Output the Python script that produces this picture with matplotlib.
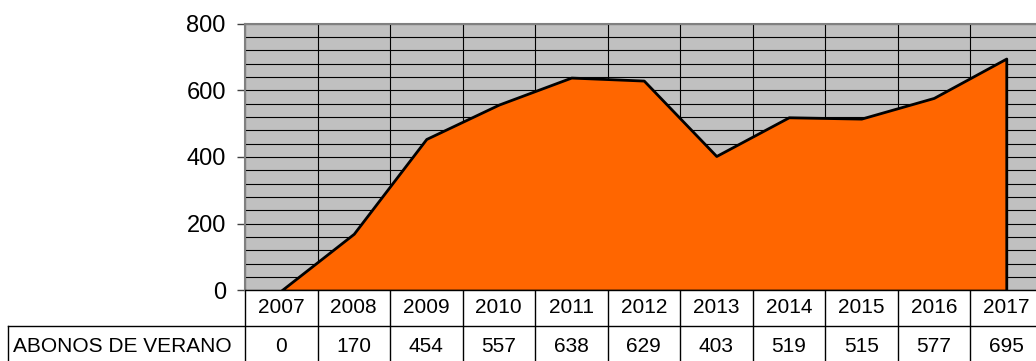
import matplotlib.pyplot as plt
import numpy as np
from matplotlib.transforms import blended_transform_factory

plt.rcParams['font.family'] = ['Liberation Sans', 'DejaVu Sans']

# Season tickets per year
years = ['2007', '2008', '2009', '2010', '2011', '2012', '2013', '2014', '2015', '2016', '2017']
abonos = [0, 170, 454, 557, 638, 629, 403, 519, 515, 577, 695]
row_label = 'ABONOS DE VERANO'

x = np.arange(len(years))

fig = plt.figure(figsize=(10.36, 3.61), dpi=100)
ax = fig.add_axes([0.2365, 0.1953, 0.7698, 0.7396])
ax.set_facecolor('#C0C0C0')

# area with black outline
ax.fill_between(x, abonos, 0, facecolor='#FF6600', edgecolor='black',
                linewidth=2, zorder=3)

ax.set_xlim(-0.5, len(years) - 0.5)
ax.set_ylim(0, 800)
ax.set_yticks(np.arange(0, 801, 200))
ax.set_yticks(np.arange(0, 801, 40), minor=True)
ax.set_xticks(x)
ax.set_xticklabels([])
ax.set_xticks(np.arange(-0.5, len(years)), minor=True)
ax.grid(which='both', axis='y', color='black', linewidth=0.8, zorder=1)
ax.grid(which='minor', axis='x', color='black', linewidth=0.8, zorder=1)
ax.set_axisbelow(True)

ax.tick_params(axis='y', which='major', length=5.8, width=1, color='#404040',
               labelsize=17, pad=8)
ax.tick_params(axis='y', which='minor', length=0)
ax.tick_params(axis='x', which='both', length=0)

for side in ['top', 'left']:
    ax.spines[side].set_color('#808080')
    ax.spines[side].set_linewidth(1.5)
ax.spines['bottom'].set_color('black')
ax.spines['bottom'].set_linewidth(1)
ax.spines['right'].set_visible(False)

# data table under the plot
tr = blended_transform_factory(ax.transData, ax.transAxes)
y_head = -0.0655
y_vals = -0.208
y_mid = -0.1348
y_bot = -0.35
x_cell = -0.2972

for i, (yr, v) in enumerate(zip(years, abonos)):
    ax.text(i, y_head, yr, transform=tr, ha='center', va='center', fontsize=15)
    ax.text(i, y_vals, str(v), transform=tr, ha='center', va='center', fontsize=15)

for b in np.arange(-0.5, len(years)):
    ax.plot([b, b], [0, y_bot], transform=tr, color='black', linewidth=1,
            clip_on=False)

ax.plot([x_cell, 1.02], [y_mid, y_mid], transform=ax.transAxes, color='black',
        linewidth=1, clip_on=False)
ax.plot([x_cell, x_cell], [y_mid, y_bot], transform=ax.transAxes, color='black',
        linewidth=1, clip_on=False)
ax.text(-0.2905, y_vals, row_label, transform=ax.transAxes, ha='left',
        va='center', fontsize=15)

fig.savefig('out.png', dpi=100)
